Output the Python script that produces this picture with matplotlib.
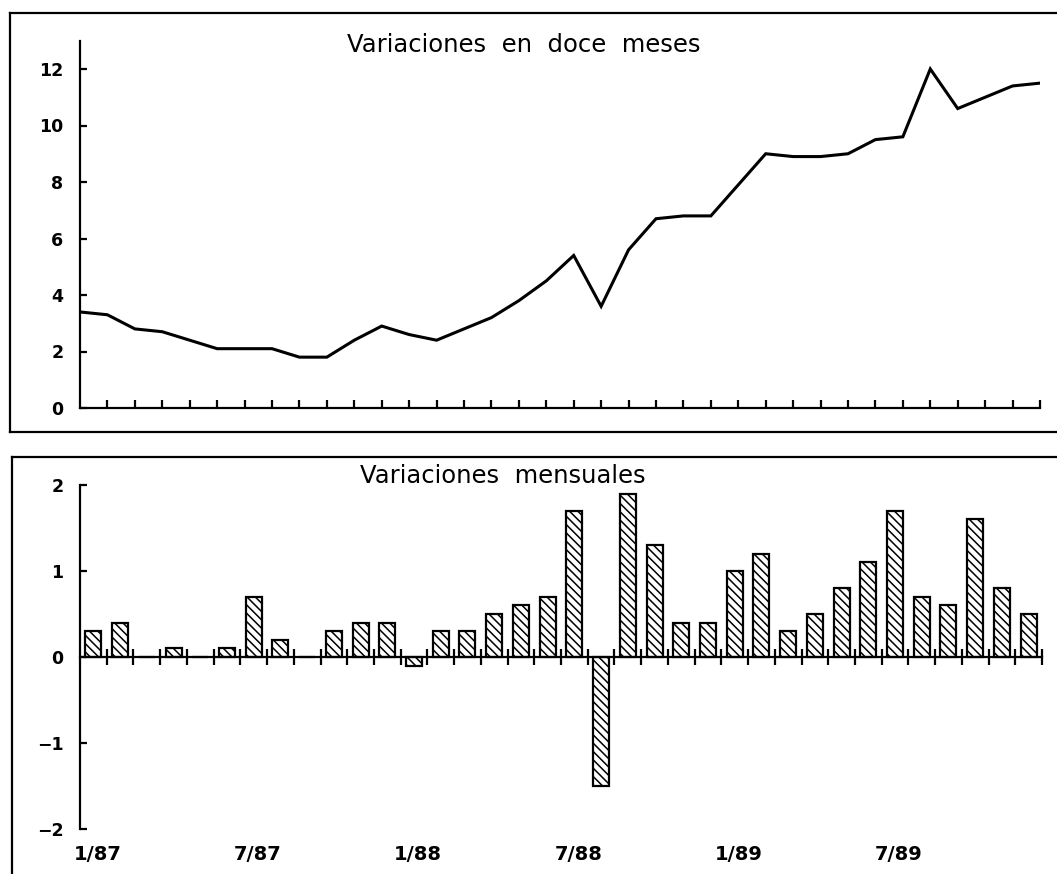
import matplotlib
matplotlib.use("Agg")
import matplotlib.pyplot as plt
from matplotlib.lines import Line2D
import numpy as np

# ---- data ----
twelve_month = [3.4, 3.3, 2.8, 2.7, 2.4, 2.1, 2.1, 2.1, 1.8, 1.8, 2.4, 2.9,
                2.6, 2.4, 2.8, 3.2, 3.8, 4.5, 5.4, 3.6, 5.6, 6.7, 6.8, 6.8,
                7.9, 9.0, 8.9, 8.9, 9.0, 9.5, 9.6, 12.0, 10.6, 11.0, 11.4, 11.5]
monthly = [0.3, 0.4, 0.0, 0.1, 0.0, 0.1, 0.7, 0.2, 0.0, 0.3, 0.4, 0.4,
           -0.1, 0.3, 0.3, 0.5, 0.6, 0.7, 1.7, -1.5, 1.9, 1.3, 0.4, 0.4,
           1.0, 1.2, 0.3, 0.5, 0.8, 1.1, 1.7, 0.7, 0.6, 1.6, 0.8, 0.5]
date_labels = ["1/87", "7/87", "1/88", "7/88", "1/89", "7/89"]
date_label_pos = [0, 6, 12, 18, 24, 30]
top_yticks = [0, 2, 4, 6, 8, 10, 12]
bot_yticks = [-2, -1, 0, 1, 2]
title_top = "Variaciones  en  doce  meses"
title_bot = "Variaciones  mensuales"

plt.rcParams['font.family'] = ['DejaVu Sans']
plt.rcParams['hatch.linewidth'] = 1.1
plt.rcParams['hatch.color'] = 'black'

W, H = 1057, 874
fig = plt.figure(figsize=(W / 100, H / 100), dpi=100)

def fx(px):
    return px / W

def fy(py):
    return 1 - py / H

# ---- top panel ----
ax1 = fig.add_axes([fx(80), fy(408), fx(1040) - fx(80), fy(40.75) - fy(408)])
x1 = np.arange(len(twelve_month))
ax1.plot(x1, twelve_month, color='black', lw=2.2, solid_joinstyle='miter')
ax1.set_xlim(0, len(twelve_month) - 1)
ax1.set_ylim(0, 13)
for s in ['top', 'right']:
    ax1.spines[s].set_visible(False)
for s in ['left', 'bottom']:
    ax1.spines[s].set_linewidth(1.6)
ax1.set_xticks(np.arange(1, len(twelve_month)))
ax1.set_xticklabels([])
ax1.tick_params(axis='x', direction='in', length=6, width=1.6)
ax1.set_yticks(top_yticks)
ax1.set_yticklabels([str(v) for v in top_yticks], fontsize=12.5, fontweight='bold')
ax1.tick_params(axis='y', direction='in', length=5, width=1.6, pad=12)
ax1.text(0.4625, 0.969, title_top, transform=ax1.transAxes, ha='center',
         va='baseline', fontsize=17.5)

# ---- bottom panel ----
ax2 = fig.add_axes([fx(80), fy(829), fx(1042) - fx(80), fy(485) - fy(829)])
x2 = np.arange(len(monthly))
ax2.bar(x2, monthly, width=0.6, facecolor='white', edgecolor='black',
        linewidth=1.6, hatch='\\\\\\\\')
ax2.set_xlim(-0.5, len(monthly) - 0.5)
ax2.set_ylim(-2, 2)
for s in ['top', 'right']:
    ax2.spines[s].set_visible(False)
ax2.spines['left'].set_linewidth(1.6)
ax2.spines['bottom'].set_position(('data', 0))
ax2.spines['bottom'].set_linewidth(1.6)
ax2.set_xticks(np.arange(0.5, len(monthly), 1.0))
ax2.set_xticklabels([])
ax2.tick_params(axis='x', direction='inout', length=12, width=1.6)
ax2.set_yticks(bot_yticks)
ax2.set_yticklabels([u"\u2212" + str(-v) if v < 0 else str(v) for v in bot_yticks],
                    fontsize=12.5, fontweight='bold')
ax2.tick_params(axis='y', direction='in', length=5, width=1.6, pad=12)
for p, lab in zip(date_label_pos, date_labels):
    ax2.text(p + 0.15, -0.075, lab, transform=ax2.get_xaxis_transform(),
             ha='center', va='center', fontsize=14, fontweight='bold')
ax2.text(0.44, 1.006, title_bot, transform=ax2.transAxes, ha='center',
         va='baseline', fontsize=17.5)

# ---- frames ----
lw = 1.6
fig.add_artist(Line2D([fx(10), fx(10)], [fy(13), fy(432)], color='black', lw=lw))
fig.add_artist(Line2D([fx(10), 1.0], [fy(13), fy(13)], color='black', lw=lw))
fig.add_artist(Line2D([fx(10), 1.0], [fy(432), fy(432)], color='black', lw=lw))
fig.add_artist(Line2D([fx(12), fx(12)], [fy(457), 0.0], color='black', lw=lw))
fig.add_artist(Line2D([fx(12), 1.0], [fy(457), fy(457)], color='black', lw=lw))

fig.savefig("out.png", dpi=100)
